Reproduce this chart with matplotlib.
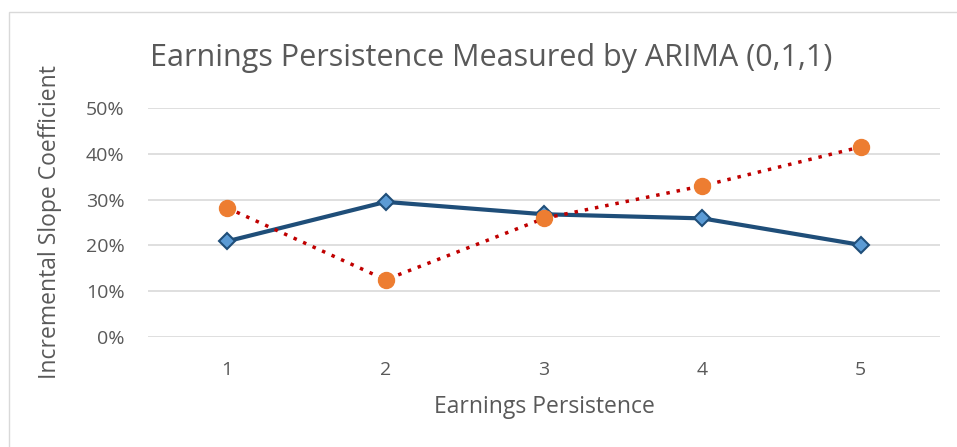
import matplotlib
matplotlib.use('Agg')
import matplotlib.pyplot as plt
from matplotlib.patches import Rectangle
from matplotlib.ticker import PercentFormatter

plt.rcParams['font.family'] = ['Open Sans', 'DejaVu Sans']

# data
periods = [1, 2, 3, 4, 5]
series_a = [0.209, 0.295, 0.268, 0.259, 0.201]
series_b = [0.282, 0.125, 0.259, 0.330, 0.415]
yticks = [0, 0.1, 0.2, 0.3, 0.4, 0.5]

fig = plt.figure(figsize=(9.57, 4.47), dpi=100)
ax = fig.add_axes([148/957, 1 - 337/447, (940 - 148)/957, (337 - 108)/447])

# outer chart border
fig.patches.append(Rectangle((9/957, -0.05), 1.0, 1 - 12/447 + 0.05,
                             transform=fig.transFigure, fill=False,
                             edgecolor='#d9d9d9', lw=1.0))

ax.plot(periods, series_a, color='#1f4e79', lw=3, marker='D', ms=8,
        mfc='#5b9bd5', mec='#1f4e79', mew=1.5, clip_on=False, zorder=3)
ax.plot(periods, series_b, color='#c00000', lw=2.5, ls=(0, (1, 2)),
        marker='o', ms=11.5, mfc='#ed7d31', mec='#ed7d31', clip_on=False, zorder=4)

ax.set_xlim(0.5, 5.5)
ax.set_ylim(0, 0.5)
ax.set_yticks(yticks)
ax.yaxis.set_major_formatter(PercentFormatter(1.0, decimals=0))
ax.set_xticks(periods)
ax.grid(axis='y', color='#d9d9d9', lw=1.2)
ax.set_axisbelow(True)
for s in ax.spines.values():
    s.set_visible(False)
ax.tick_params(length=0, labelsize=14, labelcolor='#595959')
ax.tick_params(axis='y', pad=17)
ax.tick_params(axis='x', pad=17)

ax.set_xlabel('Earnings Persistence', fontsize=16.5, color='#595959', labelpad=12)
ax.set_ylabel('Incremental Slope Coefficient', fontsize=16.5, color='#595959', labelpad=17)
fig.text(491/957, 1 - 58/447, 'Earnings Persistence Measured by ARIMA (0,1,1)',
         ha='center', va='center', fontsize=22, color='#595959')

fig.savefig('out.png', dpi=100)
